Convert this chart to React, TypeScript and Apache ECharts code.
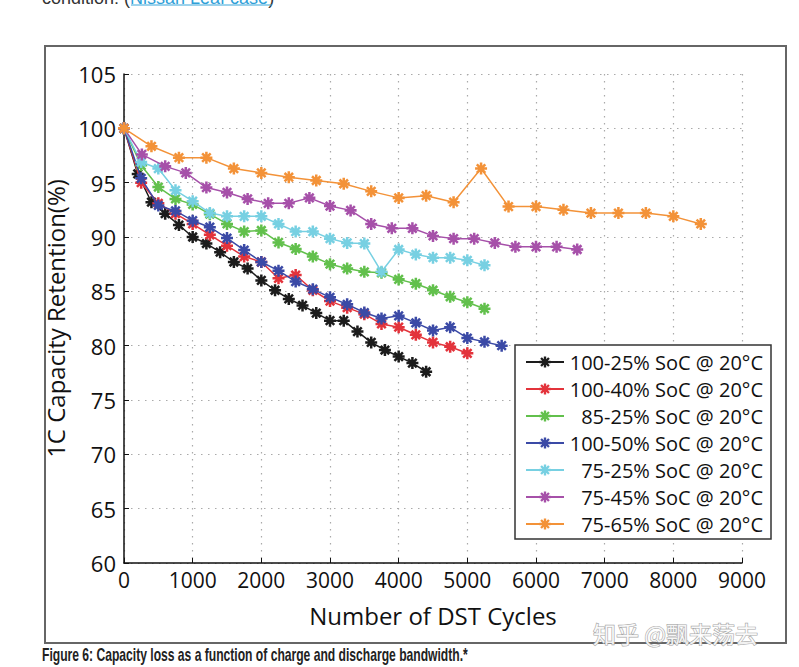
import React, { useEffect, useRef } from "react";
import * as echarts from "echarts";

// ---------- data ----------
const seriesNames = [
  "100-25% SoC @ 20°C",
  "100-40% SoC @ 20°C",
  "85-25% SoC @ 20°C",
  "100-50% SoC @ 20°C",
  "75-25% SoC @ 20°C",
  "75-45% SoC @ 20°C",
  "75-65% SoC @ 20°C",
];

const cycles_100_25 = [0, 200, 400, 600, 800, 1000, 1200, 1400, 1600, 1800, 2000, 2200, 2400, 2600, 2800, 3000, 3200, 3400, 3600, 3800, 4000, 4200, 4400];
const retention_100_25 = [100, 95.8, 93.2, 92.15, 91.1, 90.0, 89.4, 88.6, 87.7, 87.1, 86.0, 85.1, 84.3, 83.7, 83.0, 82.3, 82.3, 81.3, 80.3, 79.6, 79.0, 78.4, 77.6];

const cycles_100_40 = [0, 250, 500, 750, 1000, 1250, 1500, 1750, 2000, 2250, 2500, 2750, 3000, 3250, 3500, 3750, 4000, 4250, 4500, 4750, 5000];
const retention_100_40 = [100, 95.0, 93.1, 92.15, 91.2, 90.2, 89.2, 88.2, 87.7, 86.2, 86.5, 85.1, 84.1, 83.5, 82.9, 82.0, 81.7, 81.0, 80.3, 79.9, 79.3];

const cycles_85_25 = [0, 250, 500, 750, 1000, 1250, 1500, 1750, 2000, 2250, 2500, 2750, 3000, 3250, 3500, 3750, 4000, 4250, 4500, 4750, 5000, 5250];
const retention_85_25 = [100, 96.6, 94.6, 93.5, 93.0, 92.1, 91.2, 90.5, 90.6, 89.5, 88.9, 88.2, 87.5, 87.1, 86.8, 86.7, 86.1, 85.7, 85.1, 84.5, 84.0, 83.4];

const cycles_100_50 = [0, 250, 500, 750, 1000, 1250, 1500, 1750, 2000, 2250, 2500, 2750, 3000, 3250, 3500, 3750, 4000, 4250, 4500, 4750, 5000, 5250, 5500];
const retention_100_50 = [100, 95.4, 92.9, 92.4, 91.5, 90.9, 89.9, 88.8, 87.7, 86.9, 85.9, 85.2, 84.45, 83.8, 83.05, 82.5, 82.75, 82.1, 81.4, 81.7, 80.7, 80.35, 80.0];

const cycles_75_25 = [0, 250, 500, 750, 1000, 1250, 1500, 1750, 2000, 2250, 2500, 2750, 3000, 3250, 3500, 3750, 4000, 4250, 4500, 4750, 5000, 5250];
const retention_75_25 = [100, 96.9, 96.3, 94.3, 93.3, 92.2, 91.9, 91.9, 91.9, 91.2, 90.5, 90.5, 89.85, 89.45, 89.4, 86.8, 88.85, 88.4, 88.1, 88.1, 87.85, 87.4];

const cycles_75_45 = [0, 260, 600, 900, 1200, 1500, 1800, 2100, 2400, 2700, 3000, 3300, 3600, 3900, 4200, 4500, 4800, 5100, 5400, 5700, 6000, 6300, 6600];
const retention_75_45 = [100, 97.6, 96.5, 95.9, 94.55, 94.1, 93.5, 93.1, 93.1, 93.6, 92.85, 92.45, 91.2, 90.8, 90.8, 90.1, 89.85, 89.85, 89.45, 89.1, 89.1, 89.1, 88.85];

const cycles_75_65 = [0, 400, 800, 1200, 1600, 2000, 2400, 2800, 3200, 3600, 4000, 4400, 4800, 5200, 5600, 6000, 6400, 6800, 7200, 7600, 8000, 8400];
const retention_75_65 = [100, 98.35, 97.3, 97.3, 96.3, 95.9, 95.5, 95.2, 94.9, 94.2, 93.6, 93.8, 93.2, 96.3, 92.8, 92.8, 92.5, 92.2, 92.2, 92.2, 91.9, 91.2];

const seriesCycles = [cycles_100_25, cycles_100_40, cycles_85_25, cycles_100_50, cycles_75_25, cycles_75_45, cycles_75_65];
const seriesRetention = [retention_100_25, retention_100_40, retention_85_25, retention_100_50, retention_75_25, retention_75_45, retention_75_65];
const seriesColors = ["#1c1c1c", "#e3333b", "#62c04c", "#3b4aa6", "#77d0e2", "#a650a9", "#f39238"];

const xAxisName = "Number of DST Cycles";
const yAxisName = "1C Capacity Retention(%)";
const caption = "Figure 6: Capacity loss as a function of charge and discharge bandwidth.*";
const watermark = "知乎 @飘来荡去";

// ---------- styles ----------
function asteriskPath(R: number, w: number): string {
  let d = "";
  for (let k = 0; k < 4; k++) {
    const a = (k * Math.PI) / 4;
    const dx = Math.cos(a), dy = Math.sin(a);
    const px = -dy * w, py = dx * w;
    const pts = [
      [R * dx + px, R * dy + py],
      [R * dx - px, R * dy - py],
      [-R * dx - px, -R * dy - py],
      [-R * dx + px, -R * dy + py],
    ];
    d += "M" + pts.map((p) => p[0].toFixed(2) + " " + p[1].toFixed(2)).join("L") + "Z";
  }
  return "path://" + d;
}
const STAR = asteriskPath(10, 2.1);
const FONT = "Open Sans";

export default function App() {
  const ref = useRef<HTMLDivElement>(null);
  useEffect(() => {
    if (!ref.current) return;
    const chart = echarts.init(ref.current, undefined, { renderer: "svg" });
    const series = seriesNames.map((name, i) => ({
      type: "line",
      name,
      data: seriesCycles[i].map((c, j) => [c, seriesRetention[i][j]]),
      symbol: STAR,
      symbolSize: 12,
      showSymbol: true,
      lineStyle: { width: 1.5, color: seriesColors[i] },
      itemStyle: { color: seriesColors[i] },
      z: 3 + i,
    }));
    chart.setOption({
      animation: false,
      backgroundColor: "#ffffff",
      grid: { left: 124, right: 57, top: 74, bottom: 104 },
      xAxis: {
        type: "value",
        min: 0,
        max: 9000,
        interval: 1000,
        name: xAxisName,
        nameLocation: "middle",
        nameGap: 40,
        nameTextStyle: { fontFamily: FONT, fontSize: 24, color: "#111" },
        axisLine: { show: true, lineStyle: { color: "#111", width: 1.5 } },
        axisTick: { show: true, inside: true, length: 5, lineStyle: { color: "#111" } },
        axisLabel: { fontFamily: FONT, fontSize: 21, color: "#111", margin: 6, formatter: (v: number) => String(v) },
        splitLine: { show: true, lineStyle: { color: "#aaaaaa", type: [1.5, 5.5], width: 1.2 } },
      },
      yAxis: {
        type: "value",
        min: 60,
        max: 105,
        interval: 5,
        name: yAxisName,
        nameLocation: "middle",
        nameGap: 50,
        nameTextStyle: { fontFamily: FONT, fontSize: 24, color: "#111", fontWeight: 500 },
        axisLine: { show: true, lineStyle: { color: "#111", width: 1.5 } },
        axisTick: { show: true, inside: true, length: 5, lineStyle: { color: "#111" } },
        axisLabel: { fontFamily: FONT, fontSize: 22, color: "#111", margin: 8, formatter: (v: number) => String(v) },
        splitLine: { show: true, lineStyle: { color: "#aaaaaa", type: [1.5, 5.5], width: 1.2 } },
      },
      legend: {
        orient: "vertical",
        left: 515,
        top: 345,
        padding: [7, 8, 5, 10],
        itemWidth: 38,
        itemHeight: 14,
        itemGap: 7,
        backgroundColor: "#ffffff",
        borderColor: "#333",
        borderWidth: 1.5,
        data: seriesNames,
        formatter: (name: string) => `{r|${name}}`,
        textStyle: {
          fontFamily: FONT,
          fontSize: 20,
          color: "#111",
          rich: { r: { width: 194, align: "right", fontFamily: FONT, fontSize: 20, lineHeight: 22, color: "#111" } },
        },
      },
      graphic: [
        {
          type: "rect",
          silent: true,
          z: 0,
          shape: { x: 45, y: 46, width: 741, height: 597 },
          style: { fill: "none", stroke: "#666", lineWidth: 2 },
        },
        {
          type: "text",
          silent: true,
          x: 42,
          y: 7,
          style: {
            text: "{a|condition: (}{b|Nissan Leaf case}{a|)}",
            verticalAlign: "bottom",
            rich: {
              a: { fontFamily: "Liberation Sans", fontSize: 18, fill: "#333" },
              b: { fontFamily: "Liberation Sans", fontSize: 18, fill: "#2f9fd8" },
            },
          },
        },
        {
          type: "line",
          silent: true,
          shape: { x1: 131, y1: 5, x2: 272, y2: 5 },
          style: { stroke: "#3aa6d9", lineWidth: 1 },
        },
        {
          type: "text",
          silent: true,
          x: 42,
          y: 655,
          scaleX: 0.673,
          style: {
            text: caption,
            fontFamily: "Liberation Sans",
            fontWeight: "bold",
            fontSize: 18,
            fill: "#222",
            verticalAlign: "middle",
          },
        },
        {
          type: "text",
          silent: true,
          z: 100,
          x: 593,
          y: 633,
          style: {
            text: watermark,
            fontFamily: "Noto Sans CJK SC",
            fontSize: 23,
            fill: "rgba(255,255,255,0.9)",
            stroke: "#a8a8a8",
            lineWidth: 1.2,
            verticalAlign: "middle",
          },
        },
      ],
      series,
    });
    return () => chart.dispose();
  }, []);
  return <div ref={ref} style={{ position: "fixed", left: 0, top: 0, width: 799, height: 667 }} />;
}
